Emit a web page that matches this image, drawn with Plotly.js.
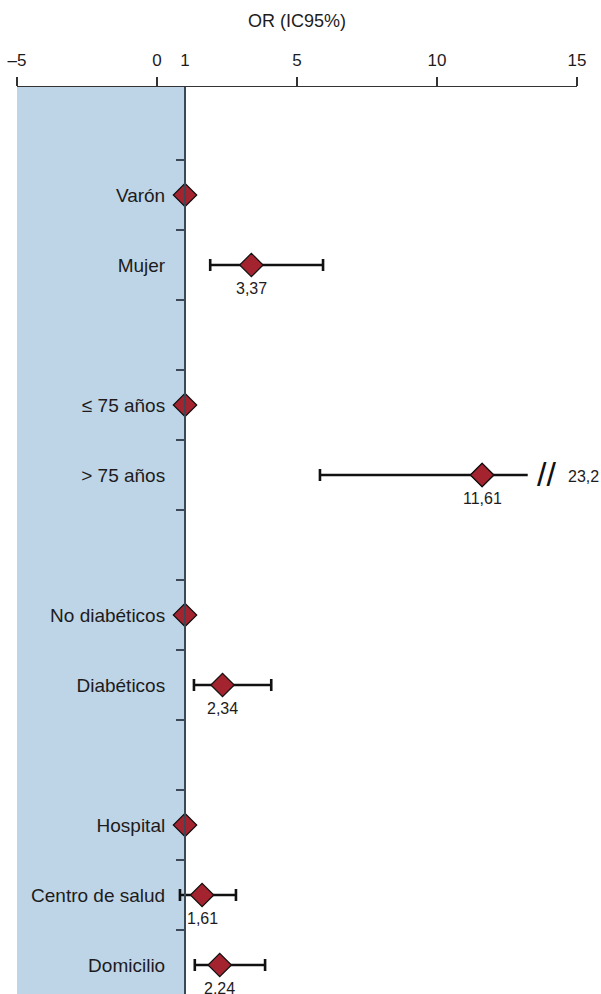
<!DOCTYPE html>
<html>
<head>
<meta charset="utf-8">
<script src="https://cdn.plot.ly/plotly-3.0.1.min.js"></script>
<style>
  html, body { margin: 0; padding: 0; background: #fff; }
  #chart { width: 601px; height: 994px; }
</style>
</head>
<body>
<div id="chart"></div>
<script>
// ---- data ----
const categories = ['Varón', 'Mujer', '≤ 75 años', '> 75 años', 'No diabéticos', 'Diabéticos', 'Hospital', 'Centro de salud', 'Domicilio'];
const rowIndex   = [0, 1, 3, 4, 6, 7, 9, 10, 11];
const oddsRatio  = [1, 3.37, 1, 11.61, 1, 2.34, 1, 1.61, 2.24];
const ciLower    = [null, 1.9, null, 5.82, null, 1.32, null, 0.82, 1.35];
const ciUpper    = [null, 5.93, null, 23.2, null, 4.08, null, 2.82, 3.86];
const valueText  = ['', '3,37', '', '11,61', '', '2,34', '', '1,61', '2,24'];
const upperText  = ['', '', '', '23,2', '', '', '', '', ''];
const xTickVals  = [-5, 0, 1, 5, 10, 15];
const xTickText  = ['–5', '0', '1', '5', '10', '15'];
const xTickMarks = [-5, 0, 5, 10, 15];

// ---- layout constants ----
const xMin = -5, xMax = 15, refValue = 1, axisBreak = 13.24;
const yTop = -1.543, yBottom = 11.414;
const FONT = 'Liberation Sans, Arial, sans-serif';
const TXT = '#1e1b1c';
const RED = '#a3232f';
const BLUE = '#bdd5e7';
const AXIS = '#3b4856';
const MSIZE = 18;

const refIdx = [], estIdx = [];
categories.forEach((c, i) => (ciLower[i] == null ? refIdx : estIdx).push(i));
const truncIdx = estIdx.filter(i => ciUpper[i] > axisBreak);

const markerStyle = { symbol: 'diamond', size: MSIZE, color: RED, line: { color: '#111', width: 1.2 } };
const traces = [];

// estimates with CI
traces.push({
  type: 'scatter', mode: 'markers',
  x: estIdx.map(i => oddsRatio[i]),
  y: estIdx.map(i => rowIndex[i]),
  error_x: {
    type: 'data', symmetric: false,
    array: estIdx.map(i => ciUpper[i] > axisBreak ? 0 : ciUpper[i] - oddsRatio[i]),
    arrayminus: estIdx.map(i => oddsRatio[i] - ciLower[i]),
    color: '#111', thickness: 2.6, width: 6
  },
  marker: markerStyle,
  hoverinfo: 'skip', showlegend: false
});

// truncated upper parts (up to the axis break)
truncIdx.forEach(i => {
  traces.push({
    type: 'scatter', mode: 'lines',
    x: [oddsRatio[i], axisBreak], y: [rowIndex[i], rowIndex[i]],
    line: { color: '#111', width: 2.6 },
    hoverinfo: 'skip', showlegend: false
  });
});
// diamonds on top of truncated lines
traces.push({
  type: 'scatter', mode: 'markers',
  x: truncIdx.map(i => oddsRatio[i]),
  y: truncIdx.map(i => rowIndex[i]),
  marker: markerStyle, hoverinfo: 'skip', showlegend: false
});

// reference categories
traces.push({
  type: 'scatter', mode: 'markers',
  x: refIdx.map(i => oddsRatio[i]),
  y: refIdx.map(i => rowIndex[i]),
  marker: markerStyle, hoverinfo: 'skip', showlegend: false
});

// invisible trace on xaxis2 so the tick-mark axis is drawn
traces.push({
  type: 'scatter', mode: 'markers', x: [xMin, xMax], y: [yTop, yTop],
  xaxis: 'x2', yaxis: 'y', marker: { opacity: 0 }, hoverinfo: 'skip', showlegend: false
});

const annotations = [];
estIdx.forEach(i => {
  annotations.push({
    x: oddsRatio[i], y: rowIndex[i], xref: 'x', yref: 'y',
    text: valueText[i], showarrow: false, yshift: -23,
    font: { family: FONT, size: 16, color: TXT }
  });
  if (ciUpper[i] > axisBreak) {
    annotations.push({
      x: axisBreak, y: rowIndex[i], xref: 'x', yref: 'y',
      text: '//', showarrow: false, xanchor: 'left', xshift: 7, yshift: 1,
      font: { family: FONT, size: 34, color: '#111' }
    });
    annotations.push({
      x: axisBreak, y: rowIndex[i], xref: 'x', yref: 'y',
      text: upperText[i], showarrow: false, xanchor: 'left', xshift: 38, yshift: -1,
      font: { family: FONT, size: 16, color: TXT }
    });
  }
});

const layout = {
  width: 601, height: 994,
  margin: { l: 17, r: 24, t: 87, b: 0 },
  paper_bgcolor: '#fff', plot_bgcolor: 'rgba(0,0,0,0)',
  showlegend: false,
  xaxis: {
    range: [xMin, xMax], side: 'top',
    tickmode: 'array', tickvals: xTickVals, ticktext: xTickText,
    ticks: 'outside', ticklen: 7, tickcolor: 'rgba(0,0,0,0)', ticklabelstandoff: 6,
    showline: true, linecolor: '#333', linewidth: 1.5,
    showgrid: false, zeroline: false,
    tickfont: { family: FONT, size: 17, color: TXT },
    title: { text: 'OR (IC95%)', font: { family: FONT, size: 18, color: TXT }, standoff: 18 },
    fixedrange: true
  },
  xaxis2: {
    range: [xMin, xMax], overlaying: 'x', side: 'top', anchor: 'y',
    tickmode: 'array', tickvals: xTickMarks, showticklabels: false,
    ticks: 'outside', ticklen: 9, tickwidth: 1.5, tickcolor: '#333',
    showline: false, showgrid: false, zeroline: false
  },
  yaxis: {
    range: [yBottom, yTop],
    anchor: 'free', position: (refValue - xMin) / (xMax - xMin),
    tickmode: 'array', tickvals: rowIndex, ticktext: categories,
    ticks: '', ticklabelstandoff: 15,
    minor: {
      tickmode: 'array',
      tickvals: [-0.5, 0.5, 1.5, 2.5, 3.5, 4.5, 5.5, 6.5, 7.5, 8.5, 9.5, 10.5],
      ticks: 'outside', ticklen: 8, tickwidth: 1.5, tickcolor: AXIS, showgrid: false
    },
    showline: true, linecolor: AXIS, linewidth: 2,
    showgrid: false, zeroline: false,
    tickfont: { family: FONT, size: 19, color: TXT },
    fixedrange: true
  },
  shapes: [{
    type: 'rect', layer: 'below', xref: 'x', yref: 'paper',
    x0: xMin, x1: refValue, y0: 0, y1: 1,
    fillcolor: BLUE, line: { width: 0 }
  }],
  annotations: annotations
};

Plotly.newPlot('chart', traces, layout, { staticPlot: true, displayModeBar: false });
</script>
</body>
</html>
